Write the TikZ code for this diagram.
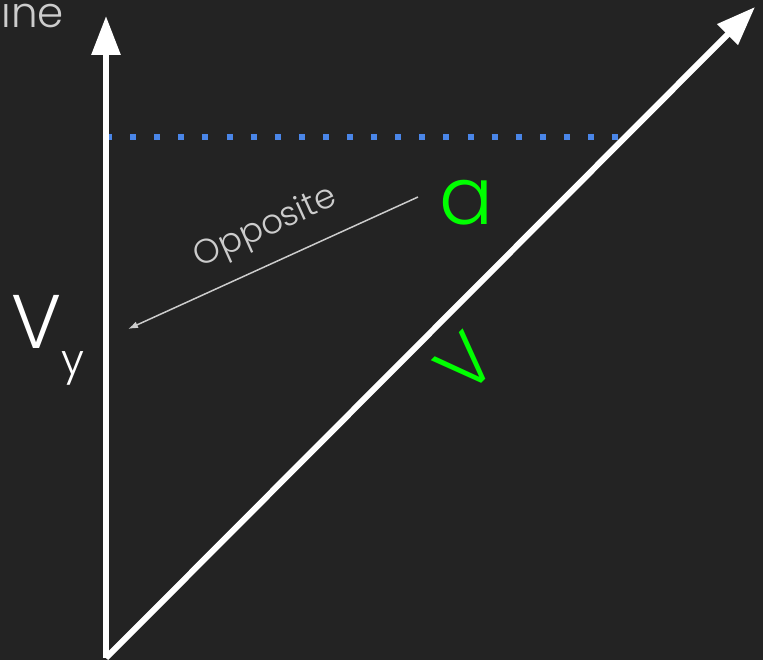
\documentclass[tikz,border=0pt]{standalone}
\usepackage{fontspec}
\setmainfont{Poppins}[UprightFont=* Light]
\usepackage{xcolor}
\usepackage{tikz}
\usetikzlibrary{arrows.meta}
\definecolor{bgdark}{HTML}{232323}
\definecolor{dotblue}{HTML}{4A86E8}
\definecolor{labgreen}{HTML}{00FF00}
\definecolor{softgray}{HTML}{CCCCCC}
\tikzset{
  vecline/.style ={draw=white, line width=6pt, -{Triangle[length=39pt,width=28pt]}},
  dotline/.style ={draw=dotblue, line width=6pt, dash pattern=on 6pt off 18.1pt},
  hintline/.style={draw=softgray, line width=1.5pt, -{Latex[length=10pt,width=7pt]}},
  biglabel/.style={inner sep=0pt, font=\fontsize{74}{74}\selectfont},
}

\begin{document}
\begin{tikzpicture}[x=1pt,y=-1pt]
\fill[bgdark] (0,0) rectangle (763,660);
\useasboundingbox (0,0) rectangle (763,660);
% --- corner points ---
\coordinate (origin) at (106,658);
\coordinate (vtop)   at (106,16);
\coordinate (vtip)   at (755,7);
\coordinate (dotl)   at (106,137);
\coordinate (dotr)   at (619,137);
\coordinate (hintst) at (418,197);
\coordinate (hinten) at (128,329);
% --- vectors ---
\draw[dotline] (dotl) -- (dotr);
\draw[vecline] (origin) -- (vtop);
\draw[vecline] (origin) -- (vtip);
% --- hint arrow ---
\draw[hintline] (hintst) -- (hinten);
\node[text=softgray, rotate=24.3, inner sep=0pt, font=\fontsize{34}{34}\selectfont] (opp) at (266,228) {Opposite};
% --- labels ---
\node[text=softgray, anchor=north east, inner sep=0pt, font=\fontsize{42}{42}\selectfont] (cut) at (64,-4) {ine};
\node[biglabel, text=labgreen, font=\fontsize{80}{80}\selectfont] (ang) at (466,203) {a};
\node[biglabel, text=labgreen, rotate=45] (vel) at (465,363) {V};
\node[biglabel, text=white, font=\fontsize{76}{76}\selectfont] (vy) at (37,322) {V};
\node[text=white, inner sep=0pt, font=\fontsize{42}{42}\selectfont] (vysub) at (73,368) {y};
\end{tikzpicture}
\end{document}
